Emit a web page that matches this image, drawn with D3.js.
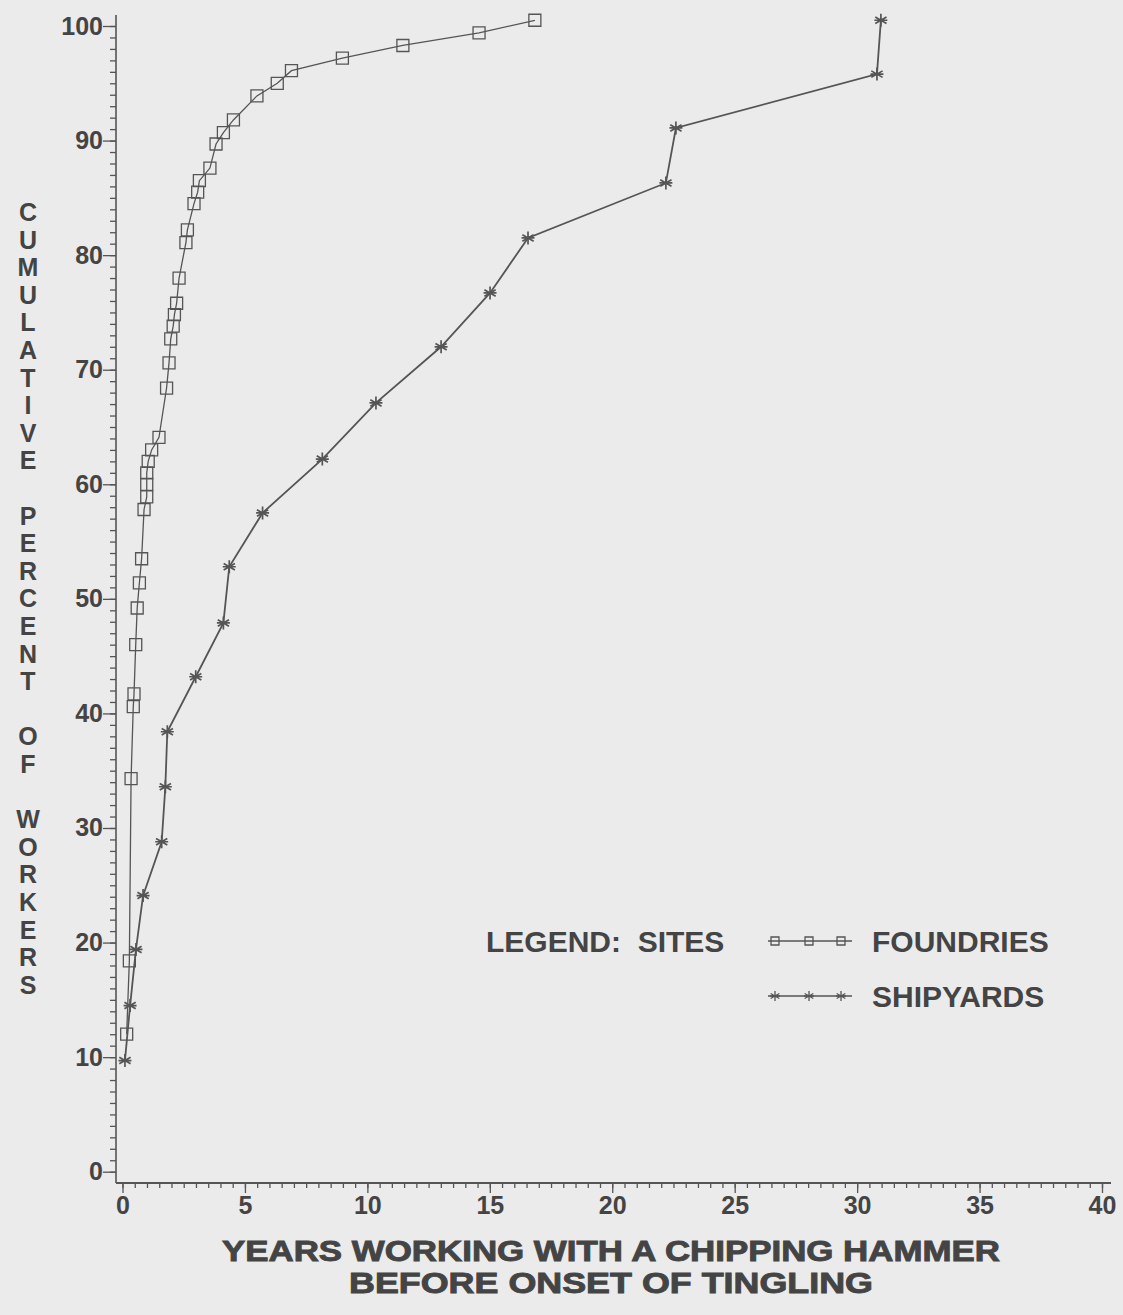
<!DOCTYPE html>
<html>
<head>
<meta charset="utf-8">
<script src="https://cdn.jsdelivr.net/npm/d3@7"></script>
<style>
  html, body { margin: 0; padding: 0; background: #ebebeb; }
  svg { display: block; }
  text { font-family: "Liberation Sans", Arial, Helvetica, sans-serif; font-weight: bold; fill: #444444; }
</style>
</head>
<body>
<svg id="chart" width="1123" height="1315"></svg>
<script>
// Cumulative percent of workers reporting tingling, by years of chipping-hammer use
const foundryYears = [0.17, 0.28, 0.35, 0.44, 0.47, 0.54, 0.60, 0.69, 0.78, 0.88,
                      0.99, 0.99, 0.99, 1.05, 1.19, 1.49, 1.80, 1.90, 1.97, 2.07,
                      2.12, 2.21, 2.31, 2.59, 2.65, 2.92, 3.07, 3.14, 3.57, 3.82,
                      4.12, 4.53, 5.49, 6.32, 6.90, 8.98, 11.45, 14.56, 16.84];
const foundryPct   = [12.0, 18.4, 34.3, 40.6, 41.7, 46.0, 49.2, 51.4, 53.5, 57.8,
                      58.9, 60.0, 61.0, 62.0, 63.0, 64.1, 68.4, 70.6, 72.7, 73.8,
                      74.8, 75.8, 78.0, 81.1, 82.2, 84.5, 85.5, 86.5, 87.6, 89.7,
                      90.7, 91.8, 93.9, 95.0, 96.1, 97.2, 98.3, 99.4, 100.5];

const shipyardYears = [0.10, 0.31, 0.55, 0.84, 1.60, 1.75, 1.83, 2.99, 4.12, 4.36,
                       5.72, 8.16, 10.35, 13.01, 15.01, 16.56, 22.19, 22.60, 30.81, 30.97];
const shipyardPct   = [9.7, 14.5, 19.4, 24.1, 28.8, 33.6, 38.4, 43.2, 47.9, 52.8,
                       57.5, 62.2, 67.1, 72.0, 76.7, 81.5, 86.3, 91.1, 95.8, 100.5];

const xTickLabels = [0, 5, 10, 15, 20, 25, 30, 35, 40];
const yTickLabels = [0, 10, 20, 30, 40, 50, 60, 70, 80, 90, 100];

const yAxisTitle = "CUMULATIVE PERCENT OF WORKERS";
const xAxisTitle = ["YEARS WORKING WITH A CHIPPING HAMMER", "BEFORE ONSET OF TINGLING"];
const legendTitle = "LEGEND:  SITES";
const seriesNames = ["FOUNDRIES", "SHIPYARDS"];

const W = 1123, H = 1315;
const ink = "#555555";
const svg = d3.select("#chart");
svg.append("rect").attr("width", W).attr("height", H).attr("fill", "#ebebeb");

const x = d3.scaleLinear().domain([0, 40]).range([122.5, 1102]);
const y = d3.scaleLinear().domain([0, 100]).range([1171.7, 26]);
const axisX = 116, axisY = 1183;

// ---- Y axis: minor ticks every 1 %, major every 10 % ----
const yMinor = svg.append("g").attr("transform", `translate(${axisX},0)`)
  .call(d3.axisLeft(y).tickValues(d3.range(0, 101, 1)).tickSize(6).tickFormat(""));
const yMajor = svg.append("g").attr("transform", `translate(${axisX},0)`)
  .call(d3.axisLeft(y).tickValues(yTickLabels).tickSize(13).tickPadding(0).tickFormat(d3.format("d")));
[yMinor, yMajor].forEach(g => {
  g.select(".domain").remove();
  g.selectAll(".tick line").attr("stroke", ink).attr("stroke-width", 1.3);
});
yMajor.selectAll(".tick text").attr("font-size", 25).attr("fill", "#444444")
  .attr("font-family", "Liberation Sans, Arial, sans-serif").attr("font-weight", "bold");
svg.append("line").attr("x1", axisX).attr("x2", axisX).attr("y1", 15).attr("y2", axisY)
  .attr("stroke", ink).attr("stroke-width", 1.6);

// ---- X axis: minor ticks every half year, major every 5 years ----
const xMinor = svg.append("g").attr("transform", `translate(0,${axisY})`)
  .call(d3.axisBottom(x).tickValues(d3.range(0, 81, 1).map(d => d / 2)).tickSize(5).tickFormat(""));
const xMajor = svg.append("g").attr("transform", `translate(0,${axisY})`)
  .call(d3.axisBottom(x).tickValues(xTickLabels).tickSize(10).tickPadding(3).tickFormat(d3.format("d")));
[xMinor, xMajor].forEach(g => {
  g.select(".domain").remove();
  g.selectAll(".tick line").attr("stroke", ink).attr("stroke-width", 1.3);
});
xMajor.selectAll(".tick text").attr("font-size", 25).attr("fill", "#444444")
  .attr("font-family", "Liberation Sans, Arial, sans-serif").attr("font-weight", "bold");
svg.append("line").attr("x1", axisX).attr("x2", 1111).attr("y1", axisY).attr("y2", axisY)
  .attr("stroke", ink).attr("stroke-width", 1.8);

// ---- axis titles ----
const yTitle = svg.append("g");
yAxisTitle.split("").forEach((ch, i) => {
  if (ch === " ") return;
  yTitle.append("text")
    .attr("x", 28).attr("y", 212 + i * 27.6)
    .attr("text-anchor", "middle").attr("dominant-baseline", "central")
    .attr("font-size", 25).text(ch);
});

svg.append("text").attr("x", 222).attr("y", 1261)
  .attr("font-size", 29).attr("textLength", 778).attr("lengthAdjust", "spacingAndGlyphs")
  .attr("stroke", "#444444").attr("stroke-width", 0.9)
  .text(xAxisTitle[0]);
svg.append("text").attr("x", 349).attr("y", 1293)
  .attr("font-size", 29).attr("textLength", 524).attr("lengthAdjust", "spacingAndGlyphs")
  .attr("stroke", "#444444").attr("stroke-width", 0.9)
  .text(xAxisTitle[1]);

// ---- marker shapes ----
function squarePath(s) {
  const h = s / 2;
  return `M${-h},${-h}H${h}V${h}H${-h}Z`;
}
function starPath(s) {
  const r = s / 2;
  const a = Math.PI / 6;
  const dx = r * Math.cos(a), dy = r * Math.sin(a);
  return `M0,${-r}V${r}M${-dx},${-dy}L${dx},${dy}M${-dx},${dy}L${dx},${-dy}M${-r},0H${r}`;
}

const line = d3.line().x(d => x(d[0])).y(d => y(d[1]));
const foundries = foundryYears.map((v, i) => [v, foundryPct[i]]);
const shipyards = shipyardYears.map((v, i) => [v, shipyardPct[i]]);

// ---- series ----
svg.append("path").datum(foundries).attr("d", line)
  .attr("fill", "none").attr("stroke", ink).attr("stroke-width", 1.3);
svg.append("g").selectAll("path").data(foundries).join("path")
  .attr("transform", d => `translate(${x(d[0])},${y(d[1])})`)
  .attr("d", squarePath(12)).attr("fill", "none").attr("stroke", ink).attr("stroke-width", 1.3);

svg.append("path").datum(shipyards).attr("d", line)
  .attr("fill", "none").attr("stroke", ink).attr("stroke-width", 1.8);
svg.append("g").selectAll("path").data(shipyards).join("path")
  .attr("transform", d => `translate(${x(d[0])},${y(d[1])})`)
  .attr("d", starPath(13)).attr("fill", "none").attr("stroke", ink).attr("stroke-width", 1.7);

// ---- legend ----
const legend = svg.append("g");
legend.append("text").attr("x", 486).attr("y", 941).attr("dominant-baseline", "central")
  .attr("font-size", 30).style("white-space", "pre").text(legendTitle);
const legendRows = [
  { name: seriesNames[0], cy: 941, shape: squarePath(8), width: 1.3 },
  { name: seriesNames[1], cy: 996, shape: starPath(10), width: 1.6 }
];
legendRows.forEach(r => {
  legend.append("line").attr("x1", 768).attr("x2", 852).attr("y1", r.cy).attr("y2", r.cy)
    .attr("stroke", ink).attr("stroke-width", r.width);
  [775, 809, 841].forEach(cx => {
    legend.append("path").attr("transform", `translate(${cx},${r.cy})`)
      .attr("d", r.shape).attr("fill", "none").attr("stroke", ink).attr("stroke-width", 1.3);
  });
  legend.append("text").attr("x", 872).attr("y", r.cy).attr("dominant-baseline", "central")
    .attr("font-size", 30).text(r.name);
});
</script>
</body>
</html>
